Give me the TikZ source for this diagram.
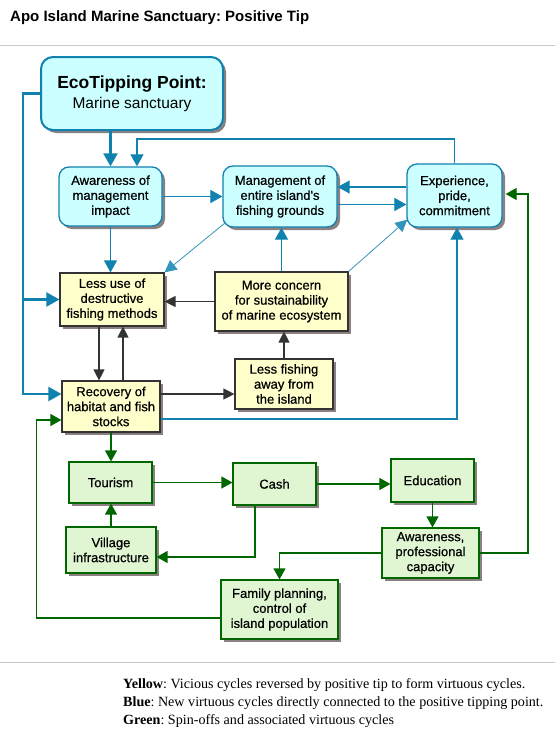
\documentclass[tikz,border=0pt]{standalone}
\usepackage{fontspec}
\setmainfont{Liberation Sans}
\newfontfamily\boxfont{Liberation Sans}[RawFeature={embolden=0.6}]
\newfontfamily\legendfont{Liberation Serif}
\usetikzlibrary{arrows.meta,shadows,calc}
\definecolor{bline}{RGB}{16,130,176}
\definecolor{cyanfill}{RGB}{204,255,255}
\definecolor{yelfill}{RGB}{255,255,204}
\definecolor{grnfill}{RGB}{224,246,210}
\definecolor{gline}{RGB}{0,102,0}
\definecolor{dline}{RGB}{51,51,51}
\definecolor{shad}{RGB}{140,128,128}
\definecolor{sepgray}{RGB}{200,200,200}
\frenchspacing
\begin{document}
\begin{tikzpicture}[x=1pt,y=-1pt,
  box/.style={inner sep=0pt, align=center, font=\boxfont\fontsize{13}{15}\selectfont,
    drop shadow={shadow xshift=3pt,shadow yshift=-3pt,fill=shad,opacity=1}},
  blubox/.style={box, draw=bline, line width=1.3pt, fill=cyanfill, rounded corners=10pt},
  yelbox/.style={box, draw=dline, line width=1.2pt, fill=yelfill},
  grnbox/.style={box, draw=gline, line width=1.2pt, fill=grnfill},
  sz/.style 2 args={minimum width=#1pt, minimum height=#2pt},
  bthick/.style={draw=bline, line width=2.3pt, -{Triangle[length=13pt,width=14pt]}},
  bthin/.style={draw=bline, line width=1.2pt, -{Triangle[length=12pt,width=13pt]}},
  bdiag/.style={draw=bline!85, line width=0.8pt, -{Triangle[length=12pt,width=12pt]}},
  dk/.style={draw=dline, line width=1.3pt, -{Triangle[length=11pt,width=11pt]}},
  gk/.style={draw=gline, line width=1.3pt, -{Triangle[length=11pt,width=12pt]}},
  legend/.style={anchor=west, inner sep=0pt, font=\legendfont\fontsize{14.1}{18}\selectfont}
]
\fill[white] (0,0) rectangle (555,736);
\useasboundingbox (0,0) rectangle (555,736);

% title and separators
\node[anchor=west, inner sep=0pt, font=\bfseries\fontsize{15}{18}\selectfont] (title) at (10,18) {Apo Island Marine Sanctuary: Positive Tip};
\coordinate (sepL) at (0,45);
\coordinate (sepR) at (555,45);
\draw[sepgray, line width=1pt] (sepL) -- (sepR);
\coordinate (sep2L) at (0,662);
\coordinate (sep2R) at (555,662);
\draw[sepgray, line width=1pt] (sep2L) -- (sep2R);

% blue nodes
\node[blubox, sz={182}{73}, rounded corners=12pt, line width=2pt, font=\fontsize{15.5}{20}\selectfont] (eco) at (132,93.5)
  {{\bfseries\fontsize{17.5}{20}\selectfont EcoTipping Point:}\\Marine sanctuary};
\node[blubox, sz={103}{59}] (aw) at (110.5,196.5) {Awareness of\\management\\impact};
\node[blubox, sz={114}{61}] (mg) at (280,196.5) {Management of\\entire island's\\fishing grounds};
\node[blubox, sz={95}{63}] (ex) at (454.5,195.5) {Experience,\\pride,\\commitment};

% yellow nodes
\node[yelbox, sz={104}{53}] (lu) at (112,299.5) {Less use of\\destructive\\fishing methods};
\node[yelbox, sz={133}{59}] (mc) at (281.5,301.5) {More concern\\for sustainability\\of marine ecosystem};
\node[yelbox, sz={98}{51}] (rec) at (111,406.5) {Recovery of\\habitat and fish\\stocks};
\node[yelbox, sz={98}{50}] (lf) at (284,384) {Less fishing\\away from\\the island};

% green nodes
\node[grnbox, sz={83}{41}] (tour) at (110.5,482.5) {Tourism};
\node[grnbox, sz={83}{42}] (cash) at (274.5,484) {Cash};
\node[grnbox, sz={83}{43}] (edu) at (432.5,480.5) {Education};
\node[grnbox, sz={90}{46}] (vil) at (111,550) {Village\\infrastructure};
\node[grnbox, sz={97}{50}] (awp) at (430.5,553) {Awareness,\\professional\\capacity};
\node[grnbox, sz={117}{59}] (fam) at (279.5,609.5) {Family planning,\\control of\\island population};

% blue connectors
\coordinate (railtop) at (23,93.5);
\draw[bthick] (eco.west) -- (railtop) |- ([yshift=12.5pt]rec.west);
\draw[bthick] (railtop |- lu.west) -- (lu.west);
\draw[bthick] (aw.north |- eco.south) -- (aw.north);
\coordinate (topturn) at (137,139);
\draw[bthin] (ex.north) |- (topturn) -- (topturn |- aw.north);
\draw[bthin] (aw.east) -- (aw.east -| mg.west);
\draw[bthin] (aw.south |- aw.south) -- (aw.south |- lu.north);
\draw[bdiag] ([shift={(3pt,5pt)}]mg.south west) -- (lu.north east);
\draw[bthin] (mc.north) -- (mc.north |- mg.south);
\draw[bdiag] (mc.north east) -- ([shift={(1pt,8pt)}]ex.south west);
\draw[bthin] ([yshift=8.5pt]ex.west) -- ([yshift=8.5pt]ex.west -| mg.east);
\draw[bthin] ([yshift=-8pt]mg.east) -- ([yshift=-8pt]mg.east -| ex.west);
\draw[bthin] ([yshift=-12.5pt]rec.east) -| ([xshift=2.5pt]ex.south);

% dark connectors
\draw[dk] (mc.west) -- (mc.west -| lu.east);
\draw[dk] ([xshift=-13pt]lu.south) -- ([xshift=-13pt]lu.south |- rec.north);
\draw[dk] ([xshift=12pt]rec.north) -- ([xshift=12pt]rec.north |- lu.south);
\draw[dk] ([yshift=12.5pt]rec.east) -- ([yshift=12.5pt]rec.east -| lf.west);
\draw[dk] (lf.north) -- (lf.north |- mc.south);

% green connectors
\draw[gk] (rec.south) -- (rec.south |- tour.north);
\draw[gk] (tour.east) -- (tour.east -| cash.west);
\draw[gk] (cash.east) -- (cash.east -| edu.west);
\draw[gk] (edu.south) -- (edu.south |- awp.north);
\draw[gk] ([xshift=-19.5pt]cash.south) |- ([yshift=-7pt]vil.east);
\draw[gk] (vil.north) -- (vil.north |- tour.south);
\draw[gk] (awp.west) -| (fam.north);
\coordinate (gr) at (528,194);
\draw[gk] (awp.east) -| (gr) -- ([xshift=3pt]ex.east |- gr);
\draw[gk] ([yshift=-8.5pt]fam.west) -| ([xshift=-25pt,yshift=-13.5pt]rec.west) -- ([yshift=-13.5pt]rec.west);

% legend
\node[legend] (leg1) at (123,685) {\textbf{Yellow}: Vicious cycles reversed by positive tip to form virtuous cycles.};
\node[legend] (leg2) at (123,703) {\textbf{Blue}: New virtuous cycles directly connected to the positive tipping point.};
\node[legend] (leg3) at (123,721) {\textbf{Green}: Spin-offs and associated virtuous cycles};
\end{tikzpicture}
\end{document}
